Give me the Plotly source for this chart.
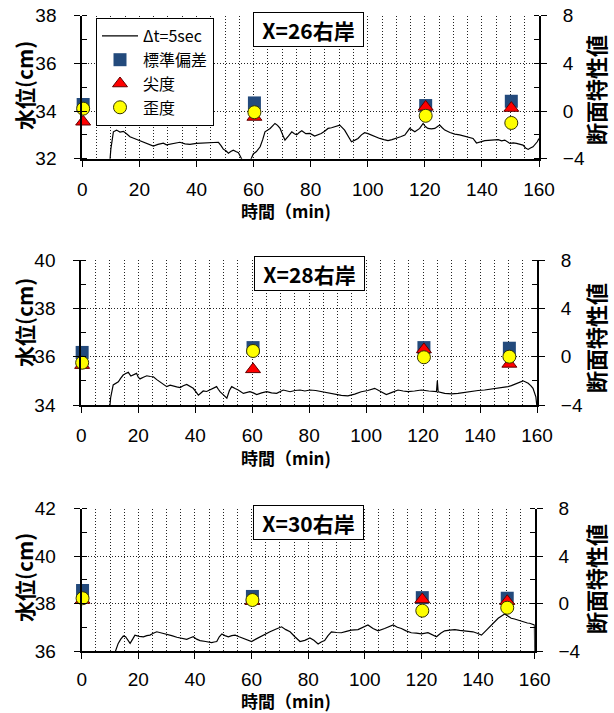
import plotly.graph_objects as go

W, H = 614, 713
FONT = "Noto Sans CJK JP"
NUMFONT = "Liberation Sans"

# ---------------- data ----------------
sample_times = [0.3, 60.3, 120.3, 150.3]

panel_titles = ["X=26右岸", "X=28右岸", "X=30右岸"]
left_ranges = [[32, 38], [34, 40], [36, 42]]
right_range = [-4, 8]

std_vals = [[0.55, 0.68, 0.46, 0.82],
            [0.35, 0.75, 0.75, 0.70],
            [1.10, 0.60, 0.50, 0.45]]
kurt_vals = [[-0.9, -0.5, 0.35, 0.25],
             [-0.7, -1.05, 0.6, -0.6],
             [0.3, 0.2, 0.35, 0.2]]
skew_vals = [[0.2, -0.1, -0.4, -1.0],
             [-0.5, 0.47, -0.05, 0.0],
             [0.45, 0.3, -0.6, -0.35]]

wl26 = [(9.6, 31.8), (10.0, 32.4), (10.9, 33.13), (12.0, 33.2), (13.2, 33.12), (14.4, 33.15),
        (15.5, 33.05), (16.7, 32.92), (18.0, 32.86), (19.6, 32.78), (21.0, 32.72), (22.6, 32.65),
        (23.8, 32.6), (24.9, 32.53), (26.5, 32.6), (28.4, 32.65), (29.5, 32.58), (30.7, 32.6),
        (32.5, 32.66), (34.2, 32.69), (36.0, 32.62), (37.7, 32.6), (40.0, 32.64), (42.4, 32.65),
        (45.0, 32.66), (47.7, 32.69), (48.6, 32.55), (49.4, 32.4), (50.3, 32.33), (51.2, 32.23),
        (52.0, 32.3), (52.9, 32.36), (53.8, 32.3), (54.7, 32.25), (55.8, 32.0), (56.5, 31.8),
        (58.8, 31.9), (59.9, 32.2), (61.0, 32.3), (62.3, 32.5), (63.2, 32.8), (64.0, 33.13),
        (65.8, 33.27), (66.6, 33.35), (67.5, 33.48), (68.4, 33.4), (69.3, 33.27), (70.2, 33.0),
        (71.0, 32.78), (72.2, 32.95), (73.4, 33.13), (74.3, 33.05), (75.1, 33.0), (76.0, 33.1),
        (76.9, 33.17), (78.3, 33.05), (79.8, 33.06), (81.4, 32.95), (82.5, 33.0), (83.7, 33.06),
        (84.9, 33.15), (86.1, 33.27), (87.3, 33.3), (88.4, 33.34), (90.2, 33.41), (91.9, 33.2),
        (93.1, 32.95), (94.3, 32.71), (95.5, 32.78), (96.6, 32.85), (97.8, 33.0), (98.9, 33.09),
        (100.1, 33.05), (101.3, 32.99), (102.8, 32.9), (104.2, 32.85), (105.7, 32.8), (107.1, 32.76),
        (108.5, 32.8), (110.0, 32.85), (111.5, 32.92), (113.0, 32.99), (114.7, 33.27), (116.5, 33.13),
        (118.2, 33.27), (119.4, 33.48), (120.2, 33.35), (121.1, 33.27), (122.3, 33.25), (123.5, 33.27),
        (125.2, 33.41), (126.1, 33.3), (127.0, 33.2), (128.8, 33.1), (130.5, 33.03), (132.2, 33.0),
        (134.0, 32.95), (135.5, 32.9), (136.9, 32.85), (138.1, 32.66), (139.5, 32.72), (141.0, 32.76),
        (143.3, 32.78), (145.7, 32.8), (146.9, 32.75), (148.0, 32.78), (149.8, 32.64), (151.0, 32.66),
        (152.1, 32.64), (153.2, 32.6), (154.4, 32.57), (155.3, 32.45), (156.2, 32.39), (157.0, 32.45),
        (157.9, 32.5), (159.4, 32.71), (160.0, 32.85)]

wl28 = [(10.0, 33.9), (10.3, 34.3), (11.2, 34.83), (12.0, 34.9), (13.0, 34.96), (13.8, 35.1),
        (14.7, 35.24), (15.6, 35.3), (16.5, 35.35), (17.4, 35.2), (18.3, 35.24), (19.4, 35.31),
        (20.0, 35.15), (20.6, 35.08), (21.8, 35.15), (23.0, 35.21), (24.2, 35.18), (25.3, 35.17),
        (26.5, 35.05), (27.6, 34.96), (28.8, 34.85), (30.0, 34.76), (31.2, 34.82), (32.3, 34.8),
        (33.5, 34.75), (34.7, 34.72), (35.8, 34.8), (37.0, 34.85), (38.2, 34.78), (39.3, 34.69),
        (40.2, 34.55), (41.1, 34.41), (42.0, 34.5), (42.8, 34.58), (44.0, 34.56), (45.2, 34.62),
        (46.4, 34.7), (47.5, 34.76), (48.1, 34.65), (48.7, 34.55), (49.9, 34.42), (51.1, 34.28),
        (52.0, 34.6), (52.8, 34.76), (54.0, 34.68), (55.1, 34.62), (56.9, 34.48), (58.0, 34.52),
        (59.2, 34.55), (60.4, 34.5), (61.6, 34.43), (63.3, 34.5), (65.1, 34.55), (66.8, 34.5),
        (68.6, 34.48), (70.9, 34.62), (72.1, 34.57), (73.3, 34.55), (75.0, 34.6), (76.8, 34.62),
        (78.5, 34.58), (80.3, 34.62), (82.3, 34.6), (84.3, 34.55), (86.6, 34.5), (89.0, 34.43),
        (91.3, 34.4), (93.6, 34.38), (96.0, 34.45), (98.3, 34.55), (100.6, 34.6), (103.0, 34.69),
        (105.0, 34.55), (107.1, 34.43), (109.1, 34.52), (111.2, 34.62), (113.0, 34.58), (114.7, 34.55),
        (117.0, 34.58), (119.4, 34.62), (122.0, 34.58), (124.7, 34.55), (125.0, 35.0), (125.3, 34.55),
        (127.6, 34.48), (130.0, 34.46), (132.3, 34.48), (134.7, 34.52), (137.0, 34.58), (139.3, 34.6),
        (141.6, 34.62), (144.0, 34.66), (146.3, 34.69), (148.0, 34.72), (149.8, 34.76), (151.0, 34.8),
        (152.2, 34.86), (153.7, 34.93), (155.1, 35.0), (156.0, 34.95), (156.9, 34.9), (157.8, 34.8),
        (158.6, 34.69), (159.6, 34.34), (160.0, 33.9)]

wl30 = [(11.8, 35.95), (12.9, 36.32), (13.8, 36.5), (14.7, 36.63), (15.5, 36.6), (16.2, 36.45),
        (17.1, 36.32), (18.0, 36.5), (18.8, 36.67), (20.3, 36.62), (21.8, 36.6), (23.0, 36.65),
        (24.1, 36.67), (25.3, 36.75), (26.5, 36.81), (28.2, 36.76), (30.0, 36.72), (31.8, 36.65),
        (33.6, 36.58), (35.4, 36.52), (37.1, 36.49), (38.2, 36.55), (39.4, 36.6), (40.6, 36.5),
        (41.8, 36.44), (43.8, 36.4), (45.9, 36.35), (46.8, 36.38), (47.7, 36.4), (48.6, 36.6),
        (49.5, 36.72), (50.6, 36.65), (51.8, 36.6), (53.0, 36.65), (54.2, 36.67), (55.6, 36.6),
        (57.1, 36.53), (58.5, 36.45), (60.0, 36.4), (61.5, 36.5), (63.0, 36.6), (64.8, 36.7),
        (66.5, 36.81), (68.5, 36.92), (70.6, 37.02), (72.1, 36.9), (73.6, 36.81), (75.3, 36.6),
        (77.1, 36.4), (78.8, 36.45), (80.6, 36.55), (82.0, 36.45), (83.5, 36.3), (84.6, 36.38),
        (85.8, 36.44), (87.0, 36.65), (88.2, 36.81), (90.0, 36.78), (91.7, 36.77), (93.5, 36.83),
        (95.2, 36.88), (97.6, 36.9), (99.3, 37.0), (101.1, 37.1), (102.9, 36.95), (104.7, 36.85),
        (107.0, 36.95), (108.5, 37.03), (110.0, 37.1), (111.5, 37.0), (112.9, 36.95), (114.6, 36.85),
        (116.4, 36.77), (118.2, 36.75), (120.0, 36.72), (122.3, 36.77), (123.8, 36.68), (125.3, 36.6),
        (126.8, 36.75), (128.2, 36.85), (130.0, 36.88), (131.8, 36.9), (133.5, 36.87), (135.3, 36.85),
        (136.8, 36.83), (138.2, 36.81), (139.7, 36.75), (141.2, 36.67), (142.7, 36.85), (144.1, 37.02),
        (145.6, 37.2), (147.1, 37.38), (148.3, 37.48), (149.4, 37.56), (150.5, 37.48), (151.7, 37.38),
        (152.9, 37.35), (154.1, 37.3), (155.3, 37.25), (156.5, 37.2), (157.4, 37.18), (158.2, 37.17),
        (159.1, 37.12), (159.9, 37.1), (160.0, 35.9)]

water_levels = [wl26, wl28, wl30]

x_ticks = [0, 20, 40, 60, 80, 100, 120, 140, 160]

# ---------------- layout (pixels) ----------------
plot_boxes = [  # left, right, top, bottom in px
    (82.3, 539.0, 15.7, 158.7),
    (81.3, 537.0, 260.0, 405.0),
    (81.7, 534.7, 508.7, 651.0),
]
title_centers = [(308, 30), (309.5, 273), (308.5, 522)]
ylab_centers = [85, 322, 577]
rlab_centers = [90, 338, 579]
xlab_centers = [210, 457, 700]
x_standoffs = [6, 6, 4]

GRID = "#222222"
DOT = "1px,2px"

fig = go.Figure()
layout = dict(
    width=W, height=H, margin=dict(l=0, r=0, t=0, b=0, autoexpand=False),
    paper_bgcolor="white", plot_bgcolor="white",
    font=dict(family=FONT, size=18, color="black"),
    showlegend=True,
    legend=dict(x=96 / W, y=1 - 18 / H, xanchor="left", yanchor="top",
                bgcolor="white", bordercolor="black", borderwidth=1,
                font=dict(family=FONT, size=16, color="black"),
                tracegroupgap=0, itemwidth=36),
)
annotations = []

def px_x(p):
    return p / W

def px_y(p):
    return 1 - p / H

for i in range(3):
    L, R, T, B = plot_boxes[i]
    xa = f"xaxis{'' if i == 0 else i + 1}"
    ya = f"yaxis{'' if i == 0 else 2 * i + 1}"
    ya2 = f"yaxis{2 * i + 2}"
    xref = "x" if i == 0 else f"x{i + 1}"
    yref = "y" if i == 0 else f"y{2 * i + 1}"
    yref2 = f"y{2 * i + 2}"

    layout[xa] = dict(
        domain=[px_x(L), px_x(R)], range=[0, 160], anchor=yref, automargin=False,
        tickmode="array", tickvals=x_ticks,
        ticks="outside", ticklen=6, tickwidth=1, tickcolor="black",
        showline=True, linecolor="black", linewidth=2,
        showgrid=True, gridcolor=GRID, griddash=DOT, gridwidth=1,
        minor=dict(dtick=5, tick0=0, showgrid=True, gridcolor=GRID, griddash=DOT, gridwidth=1),
        zeroline=False, ticklabelstandoff=x_standoffs[i],
        tickfont=dict(family=NUMFONT, size=19, color="black"),
    )
    layout[ya] = dict(
        domain=[px_y(B), px_y(T)], range=left_ranges[i], anchor=xref, automargin=False,
        dtick=2, tick0=left_ranges[i][0],
        ticks="outside", ticklen=6, tickwidth=1, tickcolor="black",
        showline=True, linecolor="black", linewidth=2,
        showgrid=True, gridcolor=GRID, griddash=DOT, gridwidth=1,
        minor=dict(dtick=1, ticks="inside", ticklen=5, tickcolor="black", showgrid=False),
        zeroline=False, ticklabelstandoff=14,
        tickfont=dict(family=NUMFONT, size=19, color="black"),
    )
    layout[ya2] = dict(
        range=right_range, overlaying=yref, side="right", anchor=xref, automargin=False,
        dtick=4, tick0=-4,
        ticks="outside", ticklen=6, tickwidth=1, tickcolor="black",
        showline=True, linecolor="black", linewidth=2,
        showgrid=False, zeroline=False,
        minor=dict(dtick=2, ticks="inside", ticklen=5, tickcolor="black", showgrid=False),
        ticklabelstandoff=12,
        tickfont=dict(family=NUMFONT, size=19, color="black"),
    )

    wl = water_levels[i]
    fig.add_trace(go.Scatter(
        x=[p[0] for p in wl], y=[p[1] for p in wl], mode="lines",
        line=dict(color="black", width=1.2), name="Δt=5sec",
        xaxis=xref, yaxis=yref, showlegend=(i == 0)))
    fig.add_trace(go.Scatter(
        x=sample_times, y=std_vals[i], mode="markers", name="標準偏差",
        marker=dict(symbol="square", size=13, color="#234A7C", line=dict(width=0)),
        xaxis=xref, yaxis=yref2, showlegend=(i == 0), cliponaxis=False))
    fig.add_trace(go.Scatter(
        x=sample_times, y=kurt_vals[i], mode="markers", name="尖度",
        marker=dict(symbol="triangle-up", size=13, color="#FF0000", line=dict(width=1, color="#600000")),
        xaxis=xref, yaxis=yref2, showlegend=(i == 0), cliponaxis=False))
    fig.add_trace(go.Scatter(
        x=sample_times, y=skew_vals[i], mode="markers", name="歪度",
        marker=dict(symbol="circle", size=13, color="#FFFF00", line=dict(width=1, color="#333300")),
        xaxis=xref, yaxis=yref2, showlegend=(i == 0), cliponaxis=False))

    tx, ty = title_centers[i]
    annotations.append(dict(
        xref="paper", yref="paper", x=px_x(tx), y=px_y(ty), xanchor="center", yanchor="middle",
        text=f"<b>{panel_titles[i]}</b>", showarrow=False,
        font=dict(family=FONT, size=21, color="black"),
        bgcolor="white", bordercolor="black", borderwidth=1, borderpad=0,
        width=109, height=33))
    annotations.append(dict(
        xref="paper", yref="paper", x=px_x(24), y=px_y(ylab_centers[i]),
        xanchor="center", yanchor="middle", textangle=-90,
        text="<b>水位(cm)</b>", showarrow=False,
        font=dict(family=FONT, size=21, color="black")))
    annotations.append(dict(
        xref="paper", yref="paper", x=px_x(595), y=px_y(rlab_centers[i]),
        xanchor="center", yanchor="middle", textangle=-90,
        text="<b>断面特性値</b>", showarrow=False,
        font=dict(family=FONT, size=22, color="black")))
    annotations.append(dict(
        xref="paper", yref="paper", x=px_x(286), y=px_y(xlab_centers[i]),
        xanchor="center", yanchor="middle",
        text="<b>時間（min)</b>", showarrow=False,
        font=dict(family=FONT, size=17, color="black")))

layout["annotations"] = annotations
fig.update_layout(**layout)
fig.write_html("out.html")
